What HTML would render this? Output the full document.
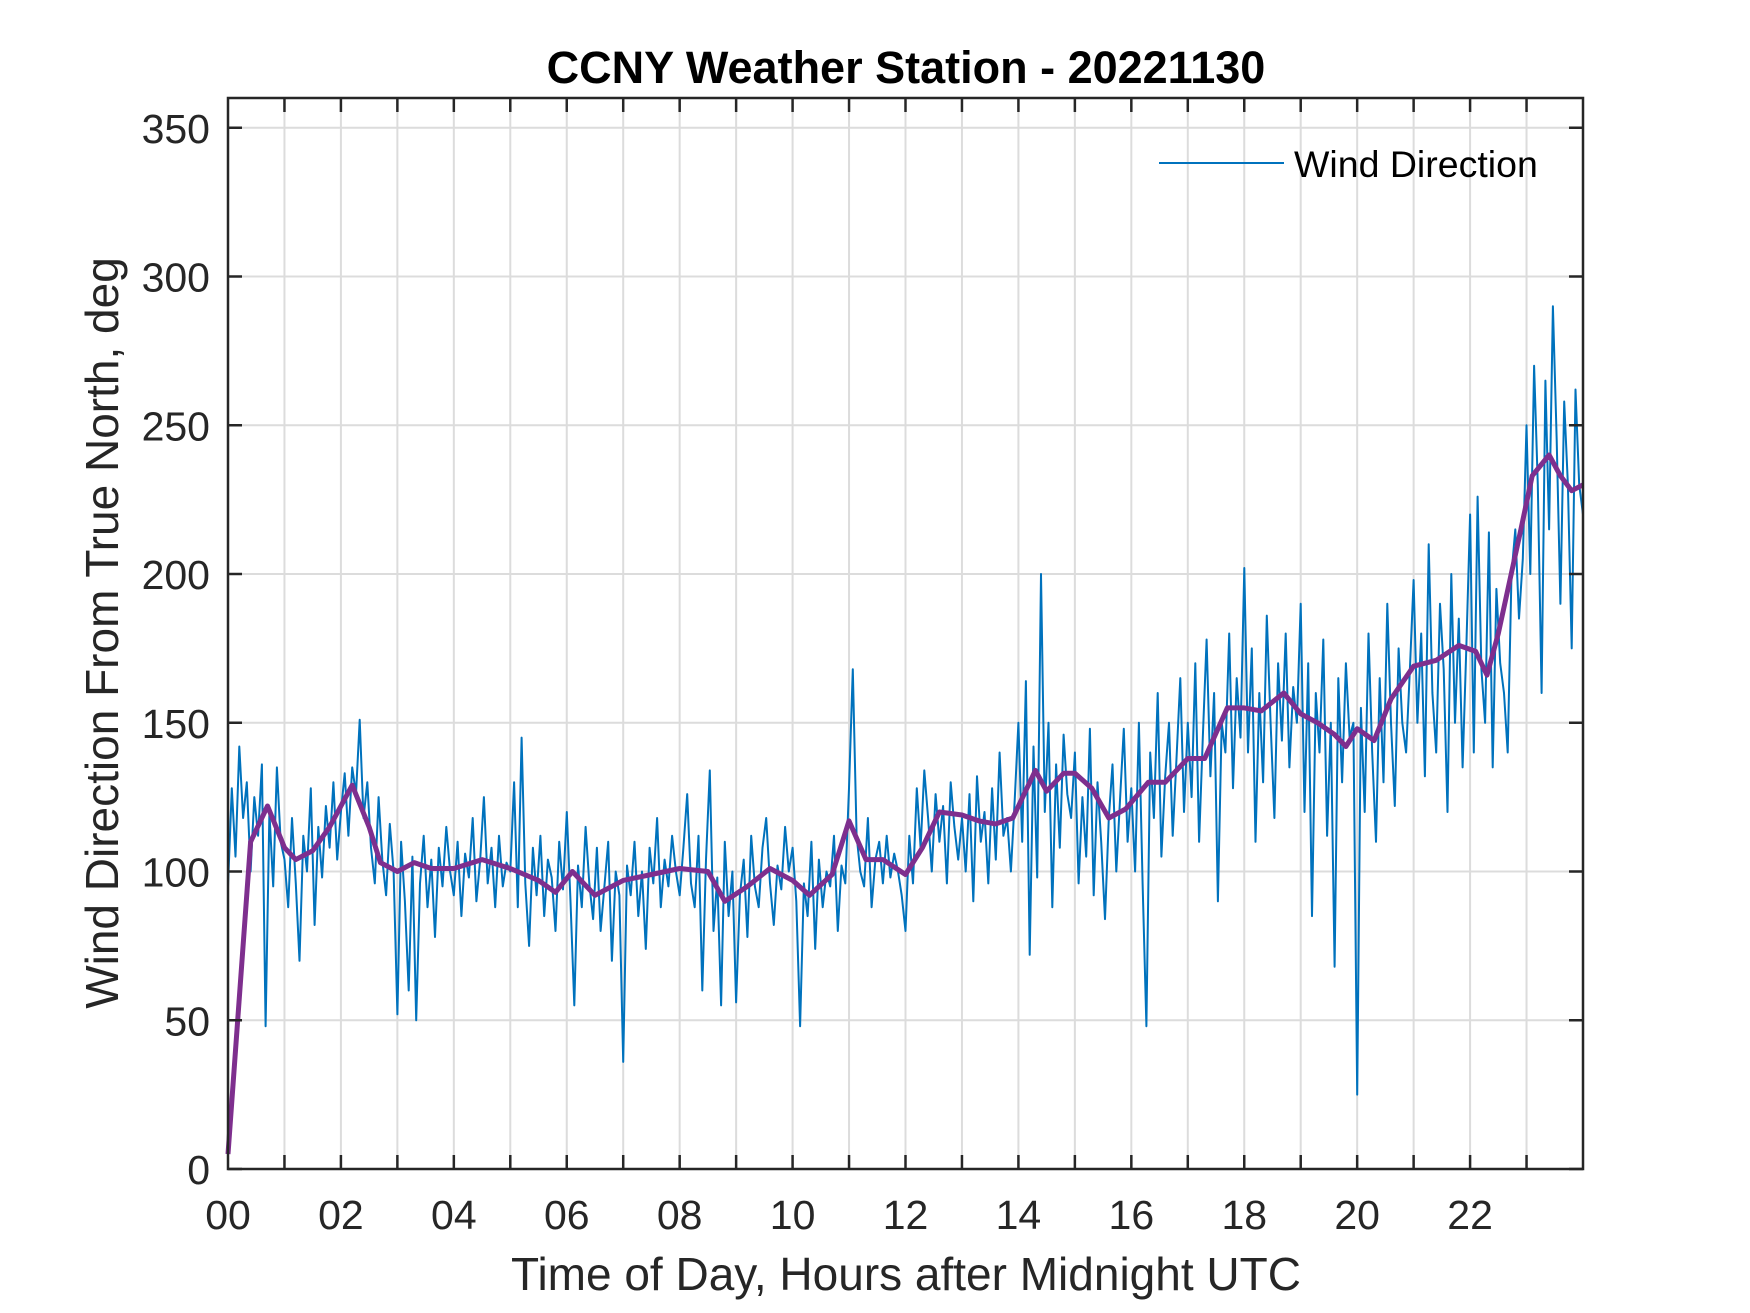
<!DOCTYPE html>
<html><head><meta charset="utf-8"><style>
html,body{margin:0;padding:0;background:#fff;}
svg{display:block;font-family:"Liberation Sans",Arial,sans-serif;}
</style></head><body>
<svg id="chart" width="1750" height="1313" viewBox="0 0 1750 1313" xmlns="http://www.w3.org/2000/svg">
<rect width="1750" height="1313" fill="#fff"/>
<g id="grid"></g>
<g id="series"></g>
<g id="axes"></g>
<text x="906" y="83" text-anchor="middle" font-size="45" font-weight="bold" fill="#000">CCNY Weather Station - 20221130</text>
<text x="906" y="1290" text-anchor="middle" font-size="46" fill="#262626">Time of Day, Hours after Midnight UTC</text>
<text transform="translate(118,633) rotate(-90)" text-anchor="middle" font-size="46" fill="#262626">Wind Direction From True North, deg</text>
<g>
<line x1="1159" y1="163" x2="1284" y2="163" stroke="#0072BD" stroke-width="2"/>
<text x="1294" y="177" font-size="37.5" fill="#000">Wind Direction</text>
</g>
</svg>
<script>
const yTicks=[0,50,100,150,200,250,300,350];
const xTickLabels=["00","02","04","06","08","10","12","14","16","18","20","22"];
const rawWind=[
95,128,105,142,118,130,100,125,112,136,48,120,95,135,110,
104,88,118,96,70,112,100,128,82,115,98,122,108,130,104,
120,133,112,135,126,151,118,130,108,96,125,104,92,116,100,
52,110,90,60,105,50,96,112,88,104,78,108,95,115,100,
92,110,85,106,98,118,90,104,125,96,108,88,112,95,103,
100,130,88,145,96,75,108,92,112,85,104,98,80,110,94,
120,90,55,102,88,115,96,84,108,80,95,110,70,100,92,
36,102,92,110,85,100,74,108,96,118,88,104,95,112,100,
92,108,126,96,88,112,60,104,134,80,98,55,110,85,100,
56,92,104,78,112,95,88,108,118,96,82,102,94,115,100,
108,90,48,96,85,110,74,104,88,100,95,112,80,102,96,
128,168,112,100,95,118,88,104,110,96,112,98,106,100,92,
80,112,96,128,108,134,118,100,126,110,122,96,130,115,104,
118,100,126,90,132,110,120,96,128,104,140,112,118,100,124,
150,110,164,72,142,98,200,120,150,88,136,108,146,126,118,
140,96,125,105,148,92,130,110,84,118,136,100,124,148,110,
128,100,150,96,48,140,118,160,105,132,150,112,138,165,120,
150,125,170,110,145,178,132,160,90,150,140,180,128,165,145,
202,140,175,110,160,130,186,150,118,170,144,180,135,162,150,
190,120,170,85,160,140,178,112,150,68,165,130,170,145,150,
25,155,120,180,140,110,165,130,190,150,122,175,150,140,168,
198,150,180,132,210,160,140,190,168,120,200,150,185,135,175,
220,140,226,168,150,214,135,195,170,160,140,200,215,185,205,
250,200,270,230,160,265,215,290,245,190,258,230,175,262,230,220];
const avgHours=[0,0.4,0.7,1.0,1.2,1.5,1.8,2.2,2.5,2.7,3.0,3.3,3.6,4.0,4.5,5.0,5.5,5.8,6.1,6.5,7.0,7.5,8.0,8.5,8.8,9.2,9.6,10.0,10.3,10.7,11.0,11.3,11.6,12.0,12.3,12.6,13.0,13.3,13.6,13.9,14.3,14.5,14.8,15.0,15.3,15.6,15.9,16.3,16.6,17.0,17.3,17.7,18.0,18.3,18.7,19.0,19.3,19.6,19.8,20.0,20.3,20.6,21.0,21.4,21.8,22.1,22.3,22.5,22.9,23.1,23.4,23.6,23.8,24];
const avgValues=[5,110,122,108,104,107,115,129,115,103,100,103,101,101,104,101,97,93,100,92,97,99,101,100,90,95,101,97,92,99,117,104,104,99,108,120,119,117,116,118,134,127,133,133,128,118,121,130,130,138,138,155,155,154,160,153,150,146,142,148,144,158,169,171,176,174,166,180,215,233,240,233,228,230];

const L=228,R=1583,T=98,B=1169,XMAX=24,YMAX=360;
const sx=h=>L+(R-L)*h/XMAX;
const sy=v=>B-(B-T)*v/YMAX;
const NS="http://www.w3.org/2000/svg";
function mk(tag,attrs,parent){const e=document.createElementNS(NS,tag);for(const k in attrs)e.setAttribute(k,attrs[k]);parent.appendChild(e);return e;}
const grid=document.getElementById('grid'),axes=document.getElementById('axes'),series=document.getElementById('series');
for(let h=1;h<XMAX;h++){
  const g=mk('line',{x1:sx(h),x2:sx(h),y1:T,y2:B,stroke:'#dcdcdc','stroke-width':2},grid);
  
  
}
yTicks.forEach(v=>{
  if(v>0){const g=mk('line',{x1:L,x2:R,y1:sy(v),y2:sy(v),stroke:'#dcdcdc','stroke-width':2},grid);
  
  }
});
const n=rawWind.length;
let d='';
rawWind.forEach((v,i)=>{d+=(i?'L':'M')+sx(i*XMAX/(n-1)).toFixed(1)+','+sy(v).toFixed(1);});
const raw=mk('path',{d:d,fill:'none',stroke:'#0072BD','stroke-width':2,'stroke-linejoin':'round'},series);


let d2='';
avgHours.forEach((h,i)=>{d2+=(i?'L':'M')+sx(h).toFixed(1)+','+sy(avgValues[i]).toFixed(1);});
const avg=mk('path',{d:d2,fill:'none',stroke:'#7E2F8E','stroke-width':5,'stroke-linejoin':'round'},series);


const box=mk('rect',{x:L,y:T,width:R-L,height:B-T,fill:'none',stroke:'#262626','stroke-width':2.5},axes);


for(let h=1;h<XMAX;h++){
  const t1=mk('line',{x1:sx(h),x2:sx(h),y1:B,y2:B-14,stroke:'#262626','stroke-width':2.5},axes);
  
  
  const t2=mk('line',{x1:sx(h),x2:sx(h),y1:T,y2:T+14,stroke:'#262626','stroke-width':2.5},axes);
  
  
}
xTickLabels.forEach((s,i)=>{
  const t=mk('text',{x:sx(i*2),y:1229,'text-anchor':'middle','font-size':41,fill:'#262626'},axes);
  t.textContent=s;
  
  
});
yTicks.forEach(v=>{
  const t1=mk('line',{x1:L,x2:L+14,y1:sy(v),y2:sy(v),stroke:'#262626','stroke-width':2.5},axes);
  
  
  const t2=mk('line',{x1:R,x2:R-14,y1:sy(v),y2:sy(v),stroke:'#262626','stroke-width':2.5},axes);
  
  
  const t=mk('text',{x:210,y:sy(v)+15,'text-anchor':'end','font-size':41,fill:'#262626'},axes);
  t.textContent=v;
  
  
});
</script>
</body></html>
